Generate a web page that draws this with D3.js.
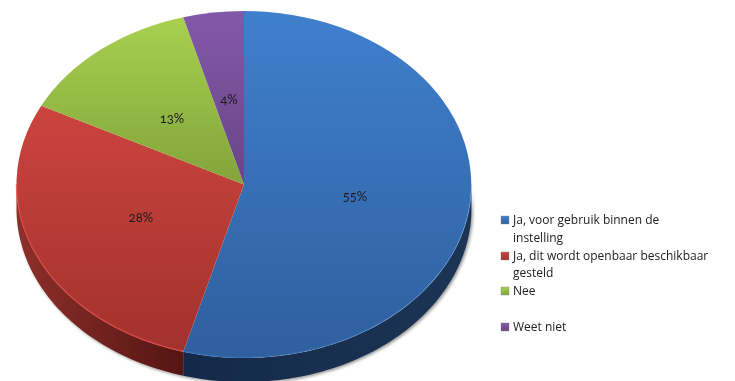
<!DOCTYPE html>
<html><head><meta charset="utf-8">
<script src="https://cdn.jsdelivr.net/npm/d3@7"></script>
<style>html,body{margin:0;padding:0;background:#fff;overflow:hidden}svg{display:block}</style>
</head><body><svg id="c" width="735" height="381"></svg>
<script>
const categories = ["Ja, voor gebruik binnen de instelling","Ja, dit wordt openbaar beschikbaar gesteld","Nee","Weet niet"];
const legendLines = [["Ja, voor gebruik binnen de","instelling"],["Ja, dit wordt openbaar beschikbaar","gesteld"],["Nee"],["Weet niet"]];
const values = [54.3,28.2,13.2,4.3];
const labels = ["55%","28%","13%","4%"];
const topColors = ["#3f80cd","#cc443e","#a8d04f","#8259a9"];
const bottomColors = ["#2f5f9e","#a2312d","#82a43b","#694586"];
const rimStrength = [0.25,0.7,0,0];
const wallLight = ["#1c3555","#8e2f2a","#64802c","#4d3263"];
const wallDark = ["#14294a","#551513","#4a601f","#3a254b"];

const svg = d3.select("#c"), defs = svg.append("defs");
const cx=244, cy=184.5, rx=227.5, ry=173.5, depth=24;
const blurF=defs.append("filter").attr("id","sh").attr("x","-5%").attr("y","-5%").attr("width","110%").attr("height","110%");
blurF.append("feGaussianBlur").attr("stdDeviation",1.6);
const softF=defs.append("filter").attr("id","soft").attr("x","-5%").attr("y","-5%").attr("width","110%").attr("height","110%");
softF.append("feGaussianBlur").attr("stdDeviation",0.35);

const pieData=d3.pie().sort(null).value(d=>d)(values);
const X=a=>cx+rx*Math.sin(a), Y=a=>cy-ry*Math.cos(a);

pieData.forEach((p,i)=>{
  const g=defs.append("linearGradient").attr("id","g"+i).attr("x1",0).attr("x2",0).attr("y1",0).attr("y2",1);
  g.append("stop").attr("offset",0).attr("stop-color",topColors[i]);
  g.append("stop").attr("offset",1).attr("stop-color",bottomColors[i]);
  const w=defs.append("linearGradient").attr("id","w"+i).attr("x1",0).attr("x2",1).attr("y1",0).attr("y2",0);
  const lr=i===1;
  w.append("stop").attr("offset",0).attr("stop-color",lr?wallLight[i]:wallDark[i]);
  w.append("stop").attr("offset",1).attr("stop-color",lr?wallDark[i]:wallLight[i]);
});

function wallPath(a0,a1){
  const n=Math.max(2,Math.ceil((a1-a0)*40));
  const as=d3.range(n+1).map(k=>a0+(a1-a0)*k/n);
  return d3.line()(as.map(a=>[X(a),Y(a)]).concat(as.slice().reverse().map(a=>[X(a),Y(a)+depth])))+"Z";
}
const H=Math.PI/2;
const vis=pieData.map(p=>[Math.max(p.startAngle,H),Math.min(p.endAngle,3*H)]);

svg.append("path").attr("d",wallPath(H,3*H)).attr("fill","#555").attr("opacity",.6)
   .attr("transform","translate(1.5,1.5)").attr("filter","url(#sh)");
pieData.forEach((p,i)=>{
  if(vis[i][1]>vis[i][0]) svg.append("path").attr("d",wallPath(vis[i][0],vis[i][1])).attr("fill",`url(#w${i})`);
});

const arcGen=d3.arc().innerRadius(0).outerRadius(1);
const face=svg.append("g").attr("transform",`translate(${cx},${cy}) scale(${rx},${ry})`);
face.selectAll("path.s").data(pieData).join("path").attr("class","s").attr("d",arcGen).attr("fill",(d,i)=>`url(#g${i})`);

pieData.forEach((p,i)=>{
  if(vis[i][1]<=vis[i][0]||!rimStrength[i]) return;
  const n=40, as=d3.range(n+1).map(k=>vis[i][0]+(vis[i][1]-vis[i][0])*k/n);
  svg.append("path").attr("d",d3.line()(as.map(a=>[X(a),Y(a)-0.5])))
     .attr("fill","none").attr("stroke",d3.color(topColors[i]).brighter(0.35)).attr("stroke-width",1.4).attr("opacity",rimStrength[i]).attr("filter","url(#soft)");
});

const labelPos=[[355,196],[141,217],[172,118],[229,99]];
svg.selectAll("text.v").data(labels).join("text").attr("class","v")
  .attr("x",(d,i)=>labelPos[i][0]).attr("y",(d,i)=>labelPos[i][1]).attr("dy","0.35em")
  .attr("text-anchor","middle").attr("font-family","Lato").attr("font-size",13)
  .style("font-feature-settings","'onum'").attr("fill","#1c1c1c").attr("filter","url(#soft)").text(d=>d);

const legendY=[[220,238],[256,273],[291],[327]];
const lg=svg.append("g");
legendLines.forEach((ls,i)=>{
  const y0=legendY[i][0];
  const sg=defs.append("linearGradient").attr("id","k"+i).attr("x1",0).attr("x2",0).attr("y1",0).attr("y2",1);
  sg.append("stop").attr("offset",0).attr("stop-color",topColors[i]);
  sg.append("stop").attr("offset",1).attr("stop-color",bottomColors[i]);
  lg.append("rect").attr("x",501).attr("y",y0-4).attr("width",8).attr("height",8).attr("fill",`url(#k${i})`).attr("stroke","#8a8a8a").attr("stroke-width",.4);
  ls.forEach((t,j)=>{
    lg.append("text").attr("x",513).attr("y",legendY[i][j]).attr("dy","0.35em").attr("font-family","Open Sans").attr("font-size",12).attr("fill","#222").attr("filter","url(#soft)").text(t);
  });
});
</script></body></html>
